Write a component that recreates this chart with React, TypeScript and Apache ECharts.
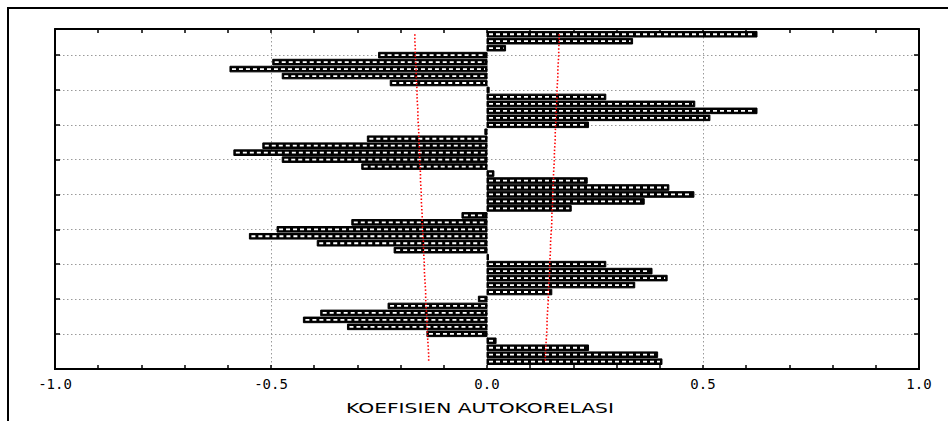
import React, { useEffect, useRef } from 'react';
import * as echarts from 'echarts';

const lags = [
  1, 2, 3, 4, 5, 6, 7, 8, 9, 10, 11, 12, 13, 14, 15, 16, 17, 18, 19, 20, 21, 22, 23, 24,
  25, 26, 27, 28, 29, 30, 31, 32, 33, 34, 35, 36, 37, 38, 39, 40, 41, 42, 43, 44, 45, 46, 47, 48,
];

const acf = [
  0.625, 0.337, 0.043, -0.251, -0.496, -0.595, -0.474, -0.224, 0.005, 0.275, 0.481, 0.625,
  0.516, 0.235, -0.005, -0.277, -0.519, -0.586, -0.474, -0.29, 0.016, 0.232, 0.421, 0.479,
  0.364, 0.195, -0.058, -0.313, -0.486, -0.55, -0.393, -0.215, 0.002, 0.275, 0.382, 0.417,
  0.342, 0.15, -0.02, -0.229, -0.385, -0.425, -0.323, -0.139, 0.021, 0.235, 0.395, 0.405,
];

const upperLimit = [
  0.167, 0.167, 0.166, 0.166, 0.165, 0.164, 0.164, 0.163, 0.162, 0.162, 0.161, 0.160,
  0.160, 0.159, 0.158, 0.158, 0.157, 0.156, 0.156, 0.155, 0.154, 0.154, 0.153, 0.152,
  0.152, 0.151, 0.150, 0.150, 0.149, 0.148, 0.147, 0.147, 0.146, 0.145, 0.145, 0.144,
  0.143, 0.142, 0.142, 0.141, 0.140, 0.139, 0.139, 0.138, 0.137, 0.136, 0.135, 0.135,
];

const lowerLimit = [
  -0.167, -0.167, -0.166, -0.166, -0.165, -0.164, -0.164, -0.163, -0.162, -0.162, -0.161, -0.160,
  -0.160, -0.159, -0.158, -0.158, -0.157, -0.156, -0.156, -0.155, -0.154, -0.154, -0.153, -0.152,
  -0.152, -0.151, -0.150, -0.150, -0.149, -0.148, -0.147, -0.147, -0.146, -0.145, -0.145, -0.144,
  -0.143, -0.142, -0.142, -0.141, -0.140, -0.139, -0.139, -0.138, -0.137, -0.136, -0.135, -0.135,
];

const xTickLabels = ['-1.0', '-0.5', '0.0', '0.5', '1.0'];
const yTickLags = [4, 9, 14, 19, 24, 29, 34, 39, 44];
const axisTitle = 'KOEFISIEN AUTOKORELASI';

export default function App() {
  const ref = useRef<HTMLDivElement>(null);

  useEffect(() => {
    if (!ref.current) return;
    const chart = echarts.init(ref.current, undefined, { renderer: 'svg' });

    const axisLine = { show: true, onZero: false, lineStyle: { color: '#000', width: 2 } };

    const baseX = {
      type: 'value' as const,
      min: -1,
      max: 1,
      axisLine,
    };

    const tickAxisX = {
      ...baseX,
      interval: 0.1,
      axisTick: {
        show: true,
        inside: true,
        length: 4,
        lineStyle: { color: '#000', width: 1.5 },
      },
      axisLabel: { show: false },
      splitLine: { show: false },
    };

    const baseY = {
      type: 'value' as const,
      min: 0.25,
      max: 49.05,
      inverse: true,
      axisLine,
      axisTick: {
        show: true,
        inside: true,
        length: 5,
        customValues: yTickLags,
        lineStyle: { color: '#000', width: 1.5 },
      },
      axisLabel: { show: false },
    };

    const gridLine = { color: '#9a9a9a', type: [1.5, 2.5], width: 1 };

    chart.setOption({
      animation: false,
      backgroundColor: '#fff',
      grid: { left: 55, right: 29, top: 29, bottom: 52, show: false },
      graphic: [
        {
          type: 'rect',
          silent: true,
          shape: { x: 8, y: 8, width: 990, height: 480 },
          style: { fill: 'none', stroke: '#000', lineWidth: 2 },
        },
        {
          type: 'text',
          silent: true,
          x: 480,
          y: 408,
          scaleX: 1.5,
          style: {
            text: axisTitle,
            fill: '#000',
            fontFamily: 'DejaVu Sans',
            fontSize: 13.5,
            align: 'center',
            verticalAlign: 'middle',
          },
        },
      ],
      xAxis: [
        {
          ...baseX,
          interval: 0.5,
          position: 'bottom',
          axisTick: { show: false },
          axisLabel: {
            show: true,
            margin: 8,
            color: '#000',
            fontFamily: 'DejaVu Sans Mono',
            fontSize: 14,
            formatter: (v: number) => xTickLabels[Math.round((v + 1) / 0.5)] ?? '',
          },
          splitLine: { show: true, lineStyle: gridLine },
        },
        { ...tickAxisX, position: 'bottom' },
        { ...tickAxisX, position: 'top' },
      ],
      yAxis: [
        {
          ...baseY,
          position: 'left',
          splitLine: { show: true, lineStyle: gridLine },
        },
        {
          ...baseY,
          position: 'right',
          splitLine: { show: false },
        },
      ],
      series: [
        {
          type: 'custom',
          xAxisIndex: 0,
          yAxisIndex: 0,
          z: 3,
          encode: { x: 0, y: 1 },
          data: acf.map((v, i) => [v, lags[i]]),
          renderItem: (_params: any, api: any) => {
            const v = api.value(0);
            const k = api.value(1);
            const a = api.coord([0, k]);
            const b = api.coord([v, k]);
            const x0 = Math.min(a[0], b[0]);
            const w = Math.max(Math.abs(b[0] - a[0]), 1.5);
            const h = 5.6;
            const children: any[] = [
              {
                type: 'rect',
                shape: { x: x0, y: a[1] - h / 2, width: w, height: h },
                style: { fill: '#000', stroke: '#000', lineWidth: 1 },
              },
            ];
            if (w > 5) {
              children.push({
                type: 'line',
                shape: { x1: x0 + 2, y1: a[1], x2: x0 + w - 2, y2: a[1] },
                style: { stroke: '#fff', lineWidth: 1.8, lineDash: [4, 3] },
              });
            }
            return { type: 'group', children };
          },
        },
        {
          type: 'line',
          xAxisIndex: 0,
          yAxisIndex: 0,
          z: 5,
          symbol: 'none',
          data: upperLimit.map((v, i) => [v, lags[i]]),
          lineStyle: { color: '#ff0000', type: [1.5, 2], width: 1.6 },
        },
        {
          type: 'line',
          xAxisIndex: 0,
          yAxisIndex: 0,
          z: 5,
          symbol: 'none',
          data: lowerLimit.map((v, i) => [v, lags[i]]),
          lineStyle: { color: '#ff0000', type: [1.5, 2], width: 1.6 },
        },
      ],
    });

    return () => chart.dispose();
  }, []);

  return (
    <div
      ref={ref}
      style={{ position: 'fixed', left: 0, top: 0, width: 948, height: 421, background: '#fff' }}
    />
  );
}
